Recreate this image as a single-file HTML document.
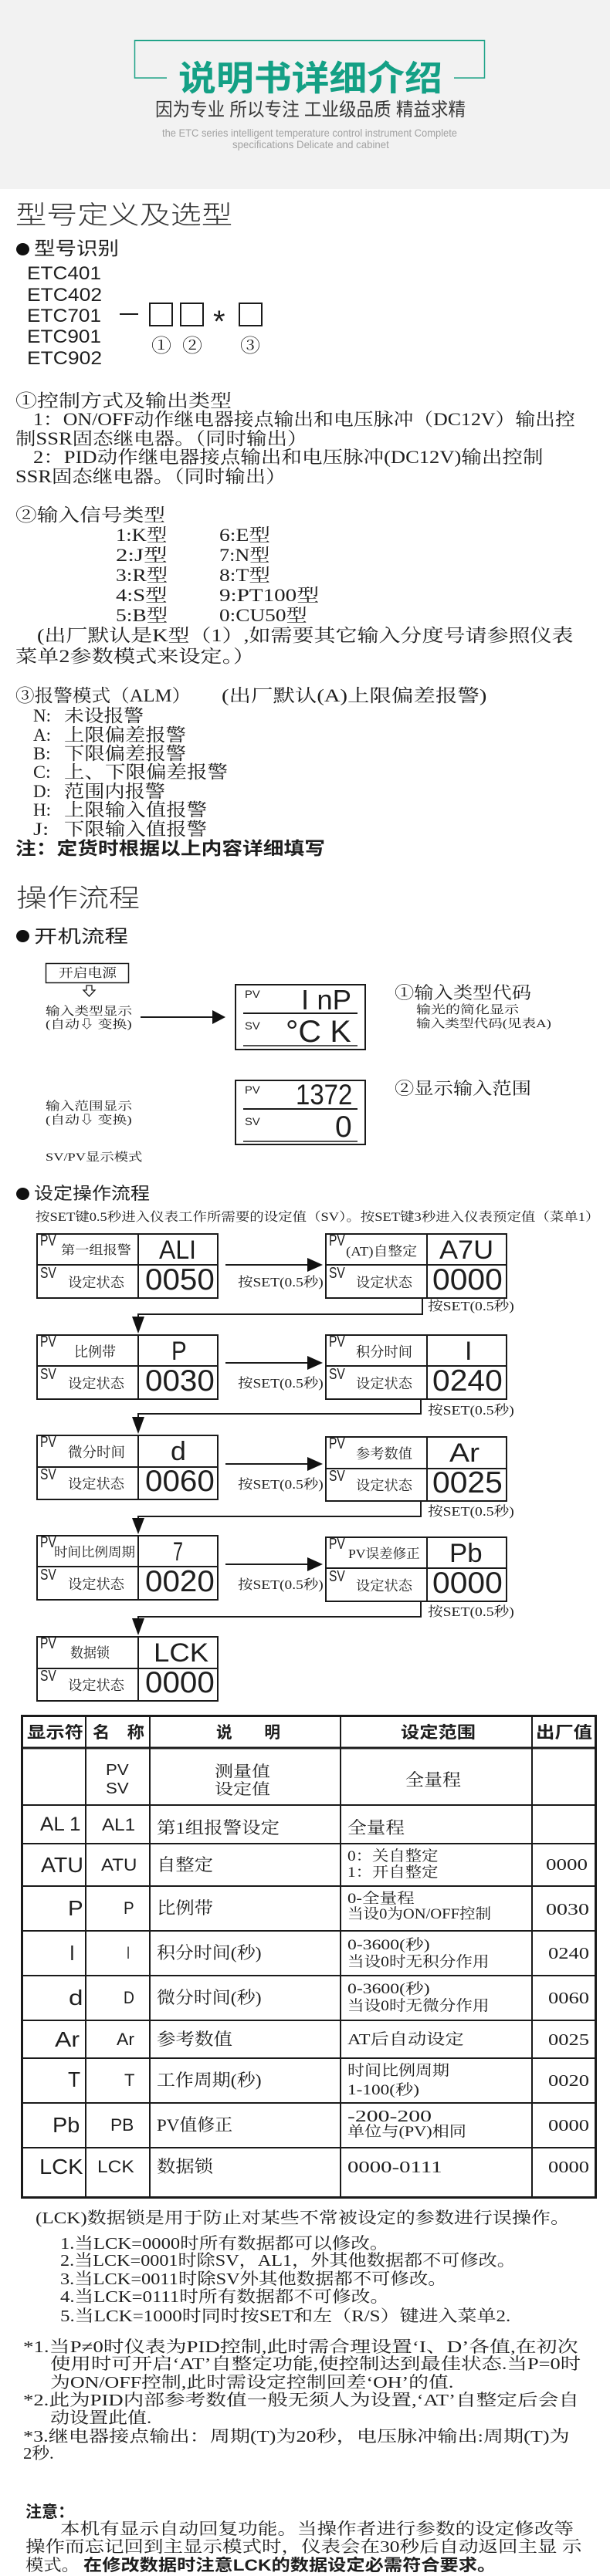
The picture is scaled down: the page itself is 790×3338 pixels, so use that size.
<!DOCTYPE html>
<html><head><meta charset="utf-8">
<style>
html,body{margin:0;padding:0;background:#fff}
body{width:790px;height:3338px;position:relative;overflow:hidden}
.hdr{position:absolute;left:0;top:0;width:790px;height:245px;background:#f2f2f2}
.t{position:absolute;white-space:nowrap;line-height:1.2;transform-origin:0 0;color:#1e1e1e}
.s{font-family:"Liberation Serif","Noto Serif CJK SC",serif}
.h{font-family:"Liberation Sans","Noto Sans CJK SC",sans-serif}
.g{font-family:"Liberation Sans",sans-serif;font-weight:400}
.b{font-weight:700}
.dot{position:absolute;width:17px;height:16px;border-radius:50%;background:#111}
svg{position:absolute;left:0;top:0}
</style></head><body>
<div class="hdr"></div>
<svg width="790" height="3338" viewBox="0 0 790 3338">
<g fill="none" stroke="#1fa387" stroke-width="1.5">
<polyline points="216,101 174.5,101 174.5,52.5 627.5,52.5 627.5,101 588,101"/>
</g>
<g fill="none" stroke="#1a1a1a" stroke-width="2">
<line x1="155" y1="407" x2="179" y2="407"/>
<rect x="194" y="393" width="29" height="29"/>
<rect x="234" y="393" width="29" height="29"/>
<rect x="310" y="393" width="29" height="29"/>
<rect x="59.5" y="1248.5" width="107" height="25" stroke-width="1.5"/>
<polygon points="112,1277 119,1277 119,1283 123,1283 115.5,1291 108,1283 112,1283" stroke-width="1.3"/>
<line x1="182" y1="1318" x2="278" y2="1318"/>
<rect x="305" y="1276" width="168" height="84"/>
<line x1="315" y1="1313" x2="463" y2="1313"/>
<line x1="315" y1="1355" x2="463" y2="1355" stroke-width="1.5"/>
<rect x="305" y="1400" width="168" height="83"/>
<line x1="315" y1="1437" x2="463" y2="1437"/>
<line x1="315" y1="1479" x2="463" y2="1479" stroke-width="1.5"/>
<!-- flow panels -->
<rect x="48" y="1599" width="234" height="83"/><line x1="179" y1="1599" x2="179" y2="1682"/><line x1="48" y1="1639" x2="282" y2="1639"/>
<rect x="422" y="1599" width="234" height="83"/><line x1="553" y1="1599" x2="553" y2="1682"/><line x1="422" y1="1639" x2="656" y2="1639"/>
<rect x="48" y="1730" width="234" height="83"/><line x1="179" y1="1730" x2="179" y2="1813"/><line x1="48" y1="1770" x2="282" y2="1770"/>
<rect x="422" y="1730" width="234" height="83"/><line x1="553" y1="1730" x2="553" y2="1813"/><line x1="422" y1="1770" x2="656" y2="1770"/>
<rect x="48" y="1860" width="234" height="83"/><line x1="179" y1="1860" x2="179" y2="1943"/><line x1="48" y1="1901" x2="282" y2="1901"/>
<rect x="422" y="1862" width="234" height="83"/><line x1="553" y1="1862" x2="553" y2="1945"/><line x1="422" y1="1903" x2="656" y2="1903"/>
<rect x="48" y="1990" width="234" height="83"/><line x1="179" y1="1990" x2="179" y2="2073"/><line x1="48" y1="2030" x2="282" y2="2030"/>
<rect x="422" y="1992" width="234" height="83"/><line x1="553" y1="1992" x2="553" y2="2075"/><line x1="422" y1="2032" x2="656" y2="2032"/>
<rect x="48" y="2121" width="234" height="83"/><line x1="179" y1="2121" x2="179" y2="2204"/><line x1="48" y1="2162" x2="282" y2="2162"/>
<!-- horizontal arrows -->
<line x1="292" y1="1639" x2="400" y2="1639"/>
<line x1="292" y1="1766" x2="400" y2="1766"/>
<line x1="292" y1="1897" x2="400" y2="1897"/>
<line x1="292" y1="2027" x2="400" y2="2027"/>
<!-- connectors -->
<polyline points="547,1682 547,1703 179,1703 179,1710"/>
<polyline points="545,1813 545,1832 179,1832 179,1838"/>
<polyline points="545,1945 545,1965 179,1965 179,1970"/>
<polyline points="545,2075 545,2095 179,2095 179,2100"/>
<!-- table -->
<rect x="28.5" y="2223.5" width="743" height="624" stroke-width="3"/>
<line x1="111" y1="2223" x2="111" y2="2848"/>
<line x1="194" y1="2223" x2="194" y2="2848"/>
<line x1="441" y1="2223" x2="441" y2="2848"/>
<line x1="689" y1="2223" x2="689" y2="2848"/>
<line x1="28" y1="2265" x2="772" y2="2265" stroke-width="3"/>
<line x1="28" y1="2339" x2="772" y2="2339"/>
<line x1="28" y1="2389" x2="772" y2="2389"/>
<line x1="28" y1="2444" x2="772" y2="2444"/>
<line x1="28" y1="2502" x2="772" y2="2502"/>
<line x1="28" y1="2560" x2="772" y2="2560"/>
<line x1="28" y1="2618" x2="772" y2="2618"/>
<line x1="28" y1="2667" x2="772" y2="2667"/>
<line x1="28" y1="2725" x2="772" y2="2725"/>
<line x1="28" y1="2783" x2="772" y2="2783"/>
</g>
<g fill="#111">
<polygon points="275,1309 292,1318 275,1327"/>
<polygon points="398,1630 418,1639 398,1648"/>
<polygon points="398,1757 418,1766 398,1775"/>
<polygon points="398,1888 418,1897 398,1906"/>
<polygon points="398,2018 418,2027 398,2036"/>
<polygon points="171,1706 187,1706 179,1728"/>
<polygon points="171,1836 187,1836 179,1858"/>
<polygon points="171,1967 187,1967 179,1988"/>
<polygon points="171,2097 187,2097 179,2119"/>
</g>
</svg>

<!-- header -->
<div class="t h b" style="left:231px;top:75px;font-size:45px;color:#14a085;--w:342">说明书详细介绍</div>
<div class="t h" style="left:201px;top:129px;font-size:24px;color:#383838;--w:402">因为专业 所以专注 工业级品质 精益求精</div>
<div class="t h" style="left:210px;top:164px;font-size:14px;color:#a2a2a2;--w:382">the ETC series intelligent temperature control instrument Complete</div>
<div class="t h" style="left:301px;top:179px;font-size:14px;color:#a2a2a2;--w:203">specifications Delicate and cabinet</div>

<!-- section 1 -->
<div class="t h" style="left:20px;top:259px;font-size:33px;font-weight:300;color:#333;--w:281">型号定义及选型</div>
<div class="dot" style="left:21px;top:315px"></div>
<div class="t h" style="left:44px;top:309px;font-size:24px;--w:110">型号识别</div>
<div class="t h" style="left:35px;top:341px;font-size:24px;--w:96">ETC401</div>
<div class="t h" style="left:35px;top:369px;font-size:24px;--w:97">ETC402</div>
<div class="t h" style="left:35px;top:396px;font-size:24px;--w:96">ETC701</div>
<div class="t h" style="left:35px;top:423px;font-size:24px;--w:96">ETC901</div>
<div class="t h" style="left:35px;top:451px;font-size:24px;--w:97">ETC902</div>
<div class="t h" style="left:276px;top:393px;font-size:40px;--w:16">*</div>
<div class="t s" style="left:196px;top:435px;font-size:24px;--w:26">①</div>
<div class="t s" style="left:236px;top:435px;font-size:24px;--w:26">②</div>
<div class="t s" style="left:311px;top:435px;font-size:24px;--w:26">③</div>

<div class="t s" style="left:20px;top:506px;font-size:23px;--w:280">①控制方式及输出类型</div>
<div class="t s" style="left:43px;top:530px;font-size:23px;--w:702">1：ON/OFF动作继电器接点输出和电压脉冲（DC12V）输出控</div>
<div class="t s" style="left:20px;top:555px;font-size:23px;--w:378">制SSR固态继电器。（同时输出）</div>
<div class="t s" style="left:43px;top:579px;font-size:23px;--w:660">2：PID动作继电器接点输出和电压脉冲(DC12V)输出控制</div>
<div class="t s" style="left:20px;top:604px;font-size:23px;--w:350">SSR固态继电器。（同时输出）</div>

<div class="t s" style="left:20px;top:654px;font-size:23px;--w:194">②输入信号类型</div>
<div class="t s" style="left:150px;top:680px;font-size:23px;--w:67">1:K型</div>
<div class="t s" style="left:150px;top:706px;font-size:23px;--w:67">2:J型</div>
<div class="t s" style="left:150px;top:732px;font-size:23px;--w:67">3:R型</div>
<div class="t s" style="left:150px;top:758px;font-size:23px;--w:67">4:S型</div>
<div class="t s" style="left:150px;top:784px;font-size:23px;--w:67">5:B型</div>
<div class="t s" style="left:284px;top:680px;font-size:23px;--w:66">6:E型</div>
<div class="t s" style="left:284px;top:706px;font-size:23px;--w:66">7:N型</div>
<div class="t s" style="left:284px;top:732px;font-size:23px;--w:66">8:T型</div>
<div class="t s" style="left:284px;top:758px;font-size:23px;--w:129">9:PT100型</div>
<div class="t s" style="left:284px;top:784px;font-size:23px;--w:114">0:CU50型</div>
<div class="t s" style="left:48px;top:810px;font-size:23px;--w:695">(出厂默认是K型（1）,如需要其它输入分度号请参照仪表</div>
<div class="t s" style="left:20px;top:837px;font-size:23px;--w:310">菜单2参数模式来设定。）</div>

<div class="t s" style="left:20px;top:888px;font-size:23px;--w:227">③报警模式（ALM）</div>
<div class="t s" style="left:287px;top:888px;font-size:23px;--w:343">(出厂默认(A)上限偏差报警)</div>
<div class="t s" style="left:43px;top:914px;font-size:23px;--w:23">N:</div>
<div class="t s" style="left:83px;top:914px;font-size:23px;--w:103">未设报警</div>
<div class="t s" style="left:43px;top:939px;font-size:23px;--w:23">A:</div>
<div class="t s" style="left:83px;top:939px;font-size:23px;--w:158">上限偏差报警</div>
<div class="t s" style="left:43px;top:963px;font-size:23px;--w:23">B:</div>
<div class="t s" style="left:83px;top:963px;font-size:23px;--w:158">下限偏差报警</div>
<div class="t s" style="left:43px;top:987px;font-size:23px;--w:23">C:</div>
<div class="t s" style="left:83px;top:987px;font-size:23px;--w:212">上、下限偏差报警</div>
<div class="t s" style="left:43px;top:1012px;font-size:23px;--w:23">D:</div>
<div class="t s" style="left:83px;top:1012px;font-size:23px;--w:131">范围内报警</div>
<div class="t s" style="left:43px;top:1036px;font-size:23px;--w:23">H:</div>
<div class="t s" style="left:83px;top:1036px;font-size:23px;--w:185">上限输入值报警</div>
<div class="t s" style="left:43px;top:1061px;font-size:23px;--w:20">J:</div>
<div class="t s" style="left:83px;top:1061px;font-size:23px;--w:185">下限输入值报警</div>
<div class="t h b" style="left:20px;top:1086px;font-size:23px;--w:401">注：定货时根据以上内容详细填写</div>

<!-- section 2 -->
<div class="t h" style="left:21px;top:1144px;font-size:33px;font-weight:300;color:#333;--w:160">操作流程</div>
<div class="dot" style="left:21px;top:1205px"></div>
<div class="t h" style="left:44px;top:1200px;font-size:23px;--w:122">开机流程</div>
<div class="t s" style="left:76px;top:1252px;font-size:16px;--w:75">开启电源</div>
<div class="t s" style="left:59px;top:1302px;font-size:15px;--w:112">输入类型显示</div>
<div class="t s" style="left:59px;top:1319px;font-size:15px;--w:112">(自动⇩ 变换)</div>
<div class="t h" style="left:317px;top:1280px;font-size:14px;--w:20">PV</div>
<div class="t h" style="left:317px;top:1321px;font-size:14px;--w:20">SV</div>
<div class="t g" style="left:390px;top:1274px;font-size:36px;--w:65">I nP</div>
<div class="t g" style="left:370px;top:1313px;font-size:40px;--w:85">°C K</div>
<div class="t s" style="left:511px;top:1274px;font-size:22px;--w:177">①输入类型代码</div>
<div class="t s" style="left:539px;top:1300px;font-size:15px;--w:133">输光的简化显示</div>
<div class="t s" style="left:539px;top:1318px;font-size:15px;--w:175">输入类型代码(见表A)</div>

<div class="t h" style="left:317px;top:1404px;font-size:14px;--w:20">PV</div>
<div class="t h" style="left:317px;top:1445px;font-size:14px;--w:20">SV</div>
<div class="t g" style="left:383px;top:1397px;font-size:37px;--w:73">1372</div>
<div class="t g" style="left:434px;top:1438px;font-size:39px;--w:22">0</div>
<div class="t s" style="left:511px;top:1398px;font-size:22px;--w:177">②显示输入范围</div>
<div class="t s" style="left:59px;top:1425px;font-size:15px;--w:112">输入范围显示</div>
<div class="t s" style="left:59px;top:1443px;font-size:15px;--w:112">(自动⇩ 变换)</div>
<div class="t s" style="left:59px;top:1491px;font-size:15px;--w:126">SV/PV显示模式</div>

<div class="dot" style="left:21px;top:1539px"></div>
<div class="t h" style="left:44px;top:1534px;font-size:22px;--w:150">设定操作流程</div>
<div class="t s" style="left:46px;top:1568px;font-size:16px;--w:730">按SET键0.5秒进入仪表工作所需要的设定值（SV）。按SET键3秒进入仪表预定值（菜单1）</div>

<!-- row 1 -->
<div class="t h" style="left:52px;top:1596px;font-size:20px;--w:21">PV</div>
<div class="t h" style="left:52px;top:1638px;font-size:20px;--w:21">SV</div>
<div class="t s" style="left:79px;top:1611px;font-size:16px;--w:91">第一组报警</div>
<div class="t s" style="left:88px;top:1652px;font-size:18px;--w:73">设定状态</div>
<div class="t g" style="left:206px;top:1600px;font-size:34px;--w:48">ALI</div>
<div class="t g" style="left:188px;top:1636px;font-size:39px;--w:90">0050</div>
<div class="t h" style="left:426px;top:1596px;font-size:20px;--w:21">PV</div>
<div class="t h" style="left:426px;top:1638px;font-size:20px;--w:21">SV</div>
<div class="t s" style="left:448px;top:1612px;font-size:17px;--w:92">(AT)自整定</div>
<div class="t s" style="left:461px;top:1652px;font-size:18px;--w:73">设定状态</div>
<div class="t g" style="left:569px;top:1600px;font-size:34px;--w:70">A7U</div>
<div class="t g" style="left:560px;top:1636px;font-size:39px;--w:91">0000</div>
<div class="t s" style="left:308px;top:1652px;font-size:17px;--w:111">按SET(0.5秒)</div>
<div class="t s" style="left:554px;top:1683px;font-size:17px;--w:112">按SET(0.5秒)</div>

<!-- row 2 -->
<div class="t h" style="left:52px;top:1727px;font-size:20px;--w:21">PV</div>
<div class="t h" style="left:52px;top:1769px;font-size:20px;--w:21">SV</div>
<div class="t s" style="left:96px;top:1742px;font-size:18px;--w:54">比例带</div>
<div class="t s" style="left:88px;top:1783px;font-size:18px;--w:73">设定状态</div>
<div class="t g" style="left:222px;top:1731px;font-size:34px;--w:20">P</div>
<div class="t g" style="left:188px;top:1767px;font-size:39px;--w:90">0030</div>
<div class="t h" style="left:426px;top:1727px;font-size:20px;--w:21">PV</div>
<div class="t h" style="left:426px;top:1769px;font-size:20px;--w:21">SV</div>
<div class="t s" style="left:461px;top:1742px;font-size:18px;--w:73">积分时间</div>
<div class="t s" style="left:461px;top:1783px;font-size:18px;--w:73">设定状态</div>
<div class="t g" style="left:602px;top:1731px;font-size:34px;--w:9">I</div>
<div class="t g" style="left:560px;top:1767px;font-size:39px;--w:91">0240</div>
<div class="t s" style="left:308px;top:1783px;font-size:17px;--w:111">按SET(0.5秒)</div>
<div class="t s" style="left:554px;top:1818px;font-size:17px;--w:112">按SET(0.5秒)</div>

<!-- row 3 -->
<div class="t h" style="left:52px;top:1857px;font-size:20px;--w:21">PV</div>
<div class="t h" style="left:52px;top:1899px;font-size:20px;--w:21">SV</div>
<div class="t s" style="left:88px;top:1872px;font-size:18px;--w:74">微分时间</div>
<div class="t s" style="left:88px;top:1913px;font-size:18px;--w:73">设定状态</div>
<div class="t g" style="left:221px;top:1861px;font-size:34px;--w:20">d</div>
<div class="t g" style="left:188px;top:1897px;font-size:39px;--w:90">0060</div>
<div class="t h" style="left:426px;top:1859px;font-size:20px;--w:21">PV</div>
<div class="t h" style="left:426px;top:1901px;font-size:20px;--w:21">SV</div>
<div class="t s" style="left:461px;top:1874px;font-size:18px;--w:73">参考数值</div>
<div class="t s" style="left:461px;top:1915px;font-size:18px;--w:73">设定状态</div>
<div class="t g" style="left:582px;top:1863px;font-size:34px;--w:39">Ar</div>
<div class="t g" style="left:560px;top:1899px;font-size:39px;--w:91">0025</div>
<div class="t s" style="left:308px;top:1914px;font-size:17px;--w:111">按SET(0.5秒)</div>
<div class="t s" style="left:554px;top:1949px;font-size:17px;--w:112">按SET(0.5秒)</div>

<!-- row 4 -->
<div class="t h" style="left:52px;top:1987px;font-size:20px;--w:21">PV</div>
<div class="t h" style="left:52px;top:2029px;font-size:20px;--w:21">SV</div>
<div class="t s" style="left:70px;top:2002px;font-size:17px;--w:105">时间比例周期</div>
<div class="t s" style="left:88px;top:2043px;font-size:18px;--w:73">设定状态</div>
<div class="t g" style="left:224px;top:1991px;font-size:34px;--w:13">7</div>
<div class="t g" style="left:188px;top:2027px;font-size:39px;--w:90">0020</div>
<div class="t h" style="left:426px;top:1989px;font-size:20px;--w:21">PV</div>
<div class="t h" style="left:426px;top:2031px;font-size:20px;--w:21">SV</div>
<div class="t s" style="left:451px;top:2004px;font-size:17px;--w:93">PV误差修正</div>
<div class="t s" style="left:461px;top:2045px;font-size:18px;--w:73">设定状态</div>
<div class="t g" style="left:582px;top:1993px;font-size:34px;--w:43">Pb</div>
<div class="t g" style="left:560px;top:2029px;font-size:39px;--w:91">0000</div>
<div class="t s" style="left:308px;top:2044px;font-size:17px;--w:111">按SET(0.5秒)</div>
<div class="t s" style="left:554px;top:2079px;font-size:17px;--w:112">按SET(0.5秒)</div>

<!-- row 5 -->
<div class="t h" style="left:52px;top:2118px;font-size:20px;--w:21">PV</div>
<div class="t h" style="left:52px;top:2160px;font-size:20px;--w:21">SV</div>
<div class="t s" style="left:91px;top:2132px;font-size:18px;--w:51">数据锁</div>
<div class="t s" style="left:88px;top:2174px;font-size:18px;--w:73">设定状态</div>
<div class="t g" style="left:199px;top:2122px;font-size:34px;--w:71">LCK</div>
<div class="t g" style="left:188px;top:2158px;font-size:39px;--w:90">0000</div>

<!-- table header -->
<div class="t h b" style="left:35px;top:2233px;font-size:21px;--w:73">显示符</div>
<div class="t h b" style="left:120px;top:2233px;font-size:21px;--w:67">名　称</div>
<div class="t h b" style="left:280px;top:2233px;font-size:21px;--w:83">说　　明</div>
<div class="t h b" style="left:519px;top:2233px;font-size:21px;--w:97">设定范围</div>
<div class="t h b" style="left:694px;top:2233px;font-size:21px;--w:73">出厂值</div>

<div class="t h" style="left:137px;top:2282px;font-size:20px;--w:30">PV</div>
<div class="t h" style="left:137px;top:2306px;font-size:20px;--w:30">SV</div>
<div class="t s" style="left:278px;top:2284px;font-size:20px;--w:72">测量值</div>
<div class="t s" style="left:278px;top:2307px;font-size:20px;--w:72">设定值</div>
<div class="t s" style="left:525px;top:2294px;font-size:22px;--w:72">全量程</div>

<div class="t g" style="left:52px;top:2349px;font-size:25px;--w:53">AL 1</div>
<div class="t h" style="left:132px;top:2352px;font-size:22px;--w:43">AL1</div>
<div class="t s" style="left:203px;top:2356px;font-size:22px;--w:159">第1组报警设定</div>
<div class="t s" style="left:450px;top:2356px;font-size:22px;--w:74">全量程</div>

<div class="t g" style="left:53px;top:2400px;font-size:28px;--w:55">ATU</div>
<div class="t h" style="left:131px;top:2404px;font-size:22px;--w:46">ATU</div>
<div class="t s" style="left:203px;top:2404px;font-size:22px;--w:73">自整定</div>
<div class="t s" style="left:450px;top:2395px;font-size:19px;--w:118">0：关自整定</div>
<div class="t s" style="left:450px;top:2416px;font-size:19px;--w:118">1：开自整定</div>
<div class="t s" style="left:707px;top:2404px;font-size:21px;--w:54">0000</div>

<div class="t g" style="left:88px;top:2456px;font-size:28px;--w:20">P</div>
<div class="t h" style="left:160px;top:2460px;font-size:22px;--w:14">P</div>
<div class="t s" style="left:203px;top:2460px;font-size:22px;--w:73">比例带</div>
<div class="t s" style="left:450px;top:2450px;font-size:19px;--w:87">0-全量程</div>
<div class="t s" style="left:450px;top:2470px;font-size:19px;--w:186">当设0为ON/OFF控制</div>
<div class="t s" style="left:707px;top:2462px;font-size:21px;--w:56">0030</div>

<div class="t g" style="left:90px;top:2514px;font-size:28px;--w:7">I</div>
<div class="t h" style="left:164px;top:2518px;font-size:22px;--w:4">I</div>
<div class="t s" style="left:203px;top:2518px;font-size:22px;--w:136">积分时间(秒)</div>
<div class="t s" style="left:450px;top:2510px;font-size:19px;--w:106">0-3600(秒)</div>
<div class="t s" style="left:450px;top:2532px;font-size:19px;--w:184">当设0时无积分作用</div>
<div class="t s" style="left:710px;top:2519px;font-size:21px;--w:53">0240</div>

<div class="t g" style="left:89px;top:2572px;font-size:28px;--w:19">d</div>
<div class="t h" style="left:160px;top:2576px;font-size:22px;--w:14">D</div>
<div class="t s" style="left:203px;top:2576px;font-size:22px;--w:136">微分时间(秒)</div>
<div class="t s" style="left:450px;top:2567px;font-size:19px;--w:106">0-3600(秒)</div>
<div class="t s" style="left:450px;top:2589px;font-size:19px;--w:184">当设0时无微分作用</div>
<div class="t s" style="left:710px;top:2577px;font-size:21px;--w:53">0060</div>

<div class="t g" style="left:71px;top:2626px;font-size:28px;--w:32">Ar</div>
<div class="t h" style="left:151px;top:2630px;font-size:22px;--w:23">Ar</div>
<div class="t s" style="left:203px;top:2630px;font-size:22px;--w:98">参考数值</div>
<div class="t s" style="left:450px;top:2631px;font-size:20px;--w:150">AT后自动设定</div>
<div class="t s" style="left:710px;top:2631px;font-size:21px;--w:53">0025</div>

<div class="t g" style="left:88px;top:2678px;font-size:28px;--w:16">T</div>
<div class="t h" style="left:161px;top:2683px;font-size:22px;--w:13">T</div>
<div class="t s" style="left:203px;top:2683px;font-size:22px;--w:136">工作周期(秒)</div>
<div class="t s" style="left:450px;top:2673px;font-size:19px;--w:132">时间比例周期</div>
<div class="t s" style="left:450px;top:2698px;font-size:19px;--w:93">1-100(秒)</div>
<div class="t s" style="left:710px;top:2684px;font-size:21px;--w:53">0020</div>

<div class="t g" style="left:68px;top:2737px;font-size:28px;--w:35">Pb</div>
<div class="t h" style="left:143px;top:2741px;font-size:22px;--w:30">PB</div>
<div class="t s" style="left:203px;top:2741px;font-size:22px;--w:98">PV值修正</div>
<div class="t s" style="left:450px;top:2730px;font-size:21px;--w:109">-200-200</div>
<div class="t s" style="left:450px;top:2752px;font-size:19px;--w:154">单位与(PV)相同</div>
<div class="t s" style="left:710px;top:2742px;font-size:21px;--w:53">0000</div>

<div class="t g" style="left:51px;top:2791px;font-size:28px;--w:56">LCK</div>
<div class="t h" style="left:126px;top:2795px;font-size:22px;--w:48">LCK</div>
<div class="t s" style="left:203px;top:2795px;font-size:22px;--w:73">数据锁</div>
<div class="t s" style="left:450px;top:2796px;font-size:21px;--w:122">0000-0111</div>
<div class="t s" style="left:710px;top:2796px;font-size:21px;--w:53">0000</div>

<!-- notes -->
<div class="t s" style="left:46px;top:2862px;font-size:21px;--w:692">(LCK)数据锁是用于防止对某些不常被设定的参数进行误操作。</div>
<div class="t s" style="left:78px;top:2895px;font-size:21px;--w:426">1.当LCK=0000时所有数据都可以修改。</div>
<div class="t s" style="left:78px;top:2917px;font-size:21px;--w:590">2.当LCK=0001时除SV，AL1，外其他数据都不可修改。</div>
<div class="t s" style="left:78px;top:2941px;font-size:21px;--w:501">3.当LCK=0011时除SV外其他数据都不可修改。</div>
<div class="t s" style="left:78px;top:2964px;font-size:21px;--w:426">4.当LCK=0111时所有数据都不可修改。</div>
<div class="t s" style="left:78px;top:2989px;font-size:21px;--w:583">5.当LCK=1000时同时按SET和左（R/S）键进入菜单2.</div>

<div class="t s" style="left:30px;top:3029px;font-size:21px;--w:718">*1.当P≠0时仪表为PID控制,此时需合理设置‘I、D’各值,在初次</div>
<div class="t s" style="left:65px;top:3051px;font-size:21px;--w:687">使用时可开启‘AT’自整定功能,使控制达到最佳状态.当P=0时</div>
<div class="t s" style="left:65px;top:3075px;font-size:21px;--w:523">为ON/OFF控制,此时需设定控制回差‘OH’的值.</div>
<div class="t s" style="left:30px;top:3098px;font-size:21px;--w:720">*2.此为PID内部参考数值一般无须人为设置,‘AT’自整定后会自</div>
<div class="t s" style="left:65px;top:3121px;font-size:21px;--w:131">动设置此值.</div>
<div class="t s" style="left:30px;top:3145px;font-size:21px;--w:708">*3.继电器接点输出：周期(T)为20秒，电压脉冲输出:周期(T)为</div>
<div class="t s" style="left:30px;top:3167px;font-size:21px;--w:40">2秒.</div>

<div class="t h b" style="left:33px;top:3243px;font-size:21px;--w:63">注意：</div>
<div class="t s" style="left:78px;top:3265px;font-size:21px;--w:665">本机有显示自动回复功能。当操作者进行参数的设定修改等</div>
<div class="t s" style="left:33px;top:3288px;font-size:21px;--w:720">操作而忘记回到主显示模式时，仪表会在30秒后自动返回主显 示</div>
<div class="t s" style="left:33px;top:3312px;font-size:21px;--w:70">模式。</div>
<div class="t h b" style="left:108px;top:3312px;font-size:21px;--w:534">在修改数据时注意LCK的数据设定必需符合要求。</div>

<script>
function fitAll(){
  var els=document.querySelectorAll('.t');
  for(var i=0;i<els.length;i++){
    var el=els[i];
    var w=parseFloat(el.style.getPropertyValue('--w'));
    if(!w)continue;
    var nw=el.offsetWidth;
    if(nw>0)el.style.transform='scaleX('+(w/nw).toFixed(4)+')';
  }
}
fitAll();
if(document.fonts&&document.fonts.ready){document.fonts.ready.then(fitAll);}
window.addEventListener('load',fitAll);
</script>
</body></html>
